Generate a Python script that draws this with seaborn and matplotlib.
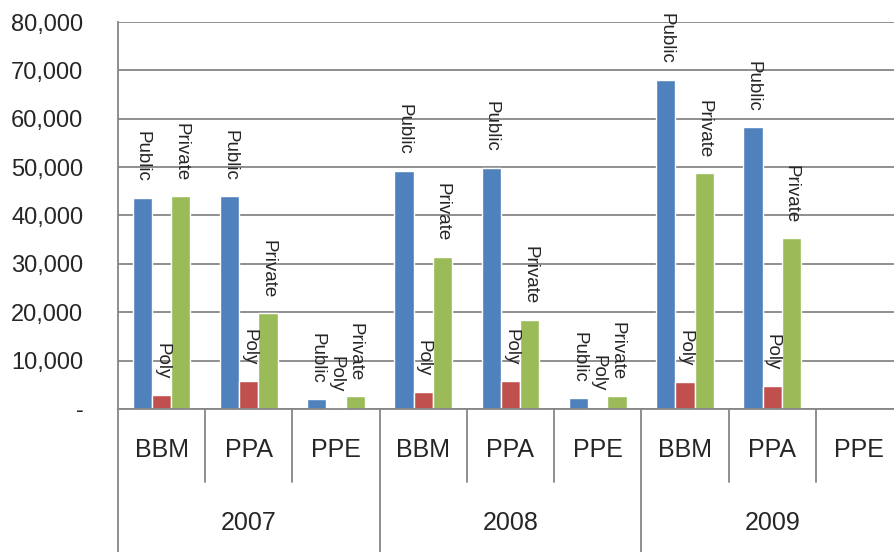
import numpy as np
import pandas as pd
import seaborn as sns
import matplotlib
matplotlib.use("Agg")
import matplotlib.pyplot as plt
from matplotlib.ticker import FuncFormatter

sns.set_style("white")
plt.rcParams['font.family'] = ['Liberation Sans', 'DejaVu Sans']

# data
years = ['2007', '2008', '2009']
schemes = ['BBM', 'PPA', 'PPE']
series = ['Public', 'Poly', 'Private']
public = [43700, 44000, 2100, 49300, 49900, 2300, 68100, 58300, np.nan]
poly = [2900, 5800, 300, 3500, 5800, 400, 5600, 4800, np.nan]
private = [44000, 19800, 2600, 31500, 18400, 2700, 48700, 35300, np.nan]
colors = ['#4F81BD', '#C0504D', '#9BBB59']

cats = [y + ' ' + s for y in years for s in schemes]
df = pd.DataFrame({
    'cat': cats * 3,
    'series': ['Public'] * 9 + ['Poly'] * 9 + ['Private'] * 9,
    'value': public + poly + private,
})

fig = plt.figure(figsize=(8.94, 5.52), dpi=100)
ax = fig.add_axes([118 / 894, (552 - 409) / 552, 785 / 894, 387 / 552])

sns.barplot(data=df, x='cat', y='value', hue='series', order=cats,
            hue_order=series, palette=colors, width=0.66, errorbar=None,
            saturation=1, ax=ax, legend=False)

# rotated labels above each bar
for cont, name in zip(ax.containers, series):
    for bar in cont:
        h = bar.get_height()
        if np.isnan(h):
            continue
        ax.annotate(name, (bar.get_x() + bar.get_width() / 2, h),
                    xytext=(0, 11), textcoords='offset points',
                    rotation=270, ha='center', va='bottom', fontsize=13.5)

grid = '#868686'
ax.set_xlim(-0.5, 8.5)
ax.set_ylim(0, 80000)
ax.set_yticks(np.arange(0, 80001, 10000))
ax.yaxis.set_major_formatter(FuncFormatter(lambda v, p: '-' if v == 0 else f'{int(v):,}'))
ax.yaxis.grid(True, color=grid, linewidth=1.3)
ax.set_axisbelow(True)
ax.tick_params(axis='y', length=6, width=1.3, color=grid, pad=19, labelsize=17)
ax.set_xticks([])
ax.set_xlabel('')
ax.set_ylabel('')
for s in ['top', 'right']:
    ax.spines[s].set_visible(False)
for s in ['left', 'bottom']:
    ax.spines[s].set_color(grid)
    ax.spines[s].set_linewidth(1.3)

# two level category axis
tr = ax.get_xaxis_transform()
for i, c in enumerate(cats):
    ax.text(i, -0.106, c.split()[1], transform=tr, ha='center', va='center', fontsize=18)
for k, y in enumerate(years):
    ax.text(3 * k + 1, -0.295, y, transform=tr, ha='center', va='center', fontsize=18)
for k in range(10):
    bottom = -0.4 if k % 3 == 0 else -0.189
    ax.plot([k - 0.5, k - 0.5], [0, bottom], transform=tr, color=grid,
            linewidth=1.3, clip_on=False)

fig.savefig('out.png', dpi=100)
